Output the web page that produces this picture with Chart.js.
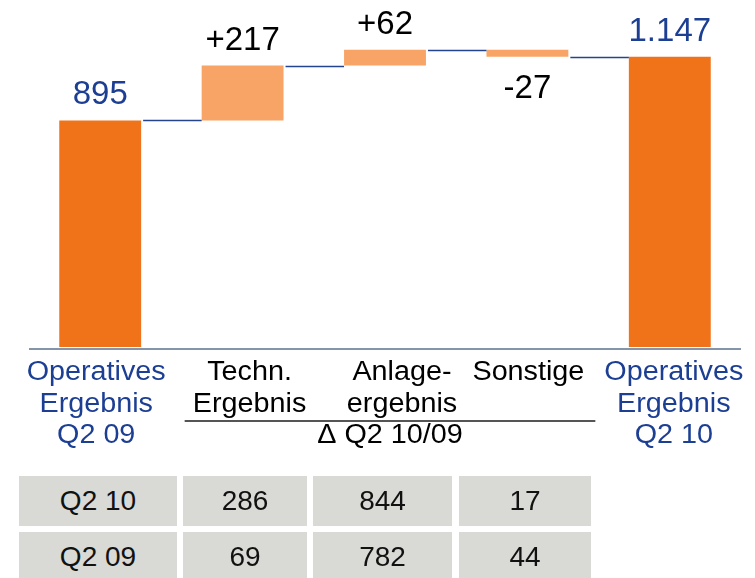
<!DOCTYPE html>
<html>
<head>
<meta charset="utf-8">
<script src="https://cdn.jsdelivr.net/npm/chart.js@4.4.0/dist/chart.umd.min.js"></script>
<style>
  html, body { margin: 0; padding: 0; background: #fff; }
  #wrap { position: relative; width: 755px; height: 578px; overflow: hidden; }
  #chart { position: absolute; left: 0; top: 0; }
  .cell {
    position: absolute; height: 50px; background: #d9d9d5;
    font: 28px "Liberation Sans", Arial, sans-serif; color: #111;
    display: flex; align-items: center; justify-content: center;
  }
</style>
</head>
<body>
<div id="wrap">
  <canvas id="chart" width="755" height="578"></canvas>
  <div id="table"></div>
</div>
<script>
/* ── Daten ─────────────────────────────────────────────── */
const categories = [
  ['Operatives', 'Ergebnis', 'Q2 09'],
  ['Techn.', 'Ergebnis'],
  ['Anlage-', 'ergebnis'],
  ['Sonstige'],
  ['Operatives', 'Ergebnis', 'Q2 10']
];
const values  = [895, 217, 62, -27, 1147];
const isTotal = [true, false, false, false, true];
const groupLabel = 'Δ Q2 10/09';

const tableRows  = ['Q2 10', 'Q2 09'];
const tableTechn = [286, 69];
const tableAnl   = [844, 782];
const tableSonst = [17, 44];

/* ── Farben / Layout ───────────────────────────────────── */
const ORANGE = '#f07219';
const LIGHT  = '#f8a466';
const BLUE   = '#1c3f94';
const FONT   = '"Liberation Sans", Arial, sans-serif';
const labelShift = [-4, 7, 17, 1, 4];   // Versatz der Kategorietexte
const STRETCH = 1.065;                   // Text leicht breiter gezogen

// Schwebende Balken aus laufender Summe
let run = 0;
const ranges = values.map((v, i) => {
  if (isTotal[i]) { run = v; return [0, v]; }
  const r = [run, run + v]; run += v; return r;
});
const levels = ranges.map(r => r[1]);

function fmt(v, total) {
  const s = v.toLocaleString('de-DE');
  return total ? s : (v > 0 ? '+' + s : s);
}

function wideText(ctx, t, x, y) {
  ctx.save();
  ctx.translate(x, y);
  ctx.scale(STRETCH, 1);
  ctx.fillText(t, 0, 0);
  ctx.restore();
}

/* ── Plugin: Achse, Verbinder, Beschriftungen ──────────── */
const waterfallDecor = {
  id: 'waterfallDecor',
  afterDatasetsDraw(chart) {
    const { ctx, chartArea, scales: { x, y } } = chart;
    const bars = chart.getDatasetMeta(0).data;
    ctx.save();

    // Basislinie
    ctx.strokeStyle = '#8494ab';
    ctx.lineWidth = 2;
    ctx.beginPath();
    ctx.moveTo(chartArea.left, chartArea.bottom + 2);
    ctx.lineTo(chartArea.right, chartArea.bottom + 2);
    ctx.stroke();

    // Verbinder
    ctx.strokeStyle = '#24448f';
    ctx.lineWidth = 1.3;
    for (let i = 0; i < bars.length - 1; i++) {
      const yy = Math.round(y.getPixelForValue(levels[i])) + 0.5;
      ctx.beginPath();
      ctx.moveTo(bars[i].x + bars[i].width / 2 + 2, yy);
      ctx.lineTo(bars[i + 1].x - bars[i + 1].width / 2, yy);
      ctx.stroke();
    }

    // Werte
    ctx.font = '33px ' + FONT;
    ctx.textAlign = 'center';
    ctx.textBaseline = 'alphabetic';
    bars.forEach((b, i) => {
      const top = Math.min(b.y, b.base), bot = Math.max(b.y, b.base);
      ctx.fillStyle = isTotal[i] ? BLUE : '#000';
      const ty = values[i] < 0 ? bot + 41 : top - 16;
      ctx.fillText(fmt(values[i], isTotal[i]), b.x, ty);
    });

    // Kategorien
    ctx.font = '27px ' + FONT;
    categories.forEach((lines, i) => {
      ctx.fillStyle = isTotal[i] ? BLUE : '#000';
      const cx = x.getPixelForValue(i) + labelShift[i];
      lines.forEach((t, k) => wideText(ctx, t, cx, chartArea.bottom + 33 + k * 31.5));
    });

    // Klammer Δ
    const gx0 = bars[1].x - bars[1].width / 2 - 17;
    const gx1 = bars[3].x + bars[3].width / 2 + 27;
    const gy = chartArea.bottom + 74;
    ctx.strokeStyle = '#555';
    ctx.lineWidth = 2;
    ctx.beginPath();
    ctx.moveTo(gx0, gy); ctx.lineTo(gx1, gy);
    ctx.stroke();
    ctx.fillStyle = '#000';
    wideText(ctx, groupLabel, (gx0 + gx1) / 2, chartArea.bottom + 96);

    ctx.restore();
  }
};

new Chart(document.getElementById('chart'), {
  type: 'bar',
  data: {
    labels: categories.map(c => c.join(' ')),
    datasets: [{
      data: ranges,
      backgroundColor: isTotal.map(t => t ? ORANGE : LIGHT),
      borderWidth: 0,
      borderSkipped: false,
      barPercentage: 0.575,
      categoryPercentage: 1
    }]
  },
  options: {
    responsive: false,
    animation: false,
    devicePixelRatio: 1,
    layout: { padding: { left: 29, right: 14, top: 0, bottom: 231 } },
    plugins: { legend: { display: false }, tooltip: { enabled: false } },
    scales: {
      x: { display: false },
      y: { display: false, min: 0, max: 1371 }
    }
  },
  plugins: [waterfallDecor]
});

/* ── Tabelle ───────────────────────────────────────────── */
const cols = [
  { left: 19,  width: 158, vals: tableRows },
  { left: 183, width: 124, vals: tableTechn },
  { left: 313, width: 139, vals: tableAnl },
  { left: 459, width: 132, vals: tableSonst }
];
const tbl = document.getElementById('table');
tableRows.forEach((_, r) => {
  cols.forEach(c => {
    const d = document.createElement('div');
    d.className = 'cell';
    d.style.left = c.left + 'px';
    d.style.width = c.width + 'px';
    d.style.top = (476 + r * 56) + 'px';
    d.textContent = c.vals[r];
    tbl.appendChild(d);
  });
});
</script>
</body>
</html>
